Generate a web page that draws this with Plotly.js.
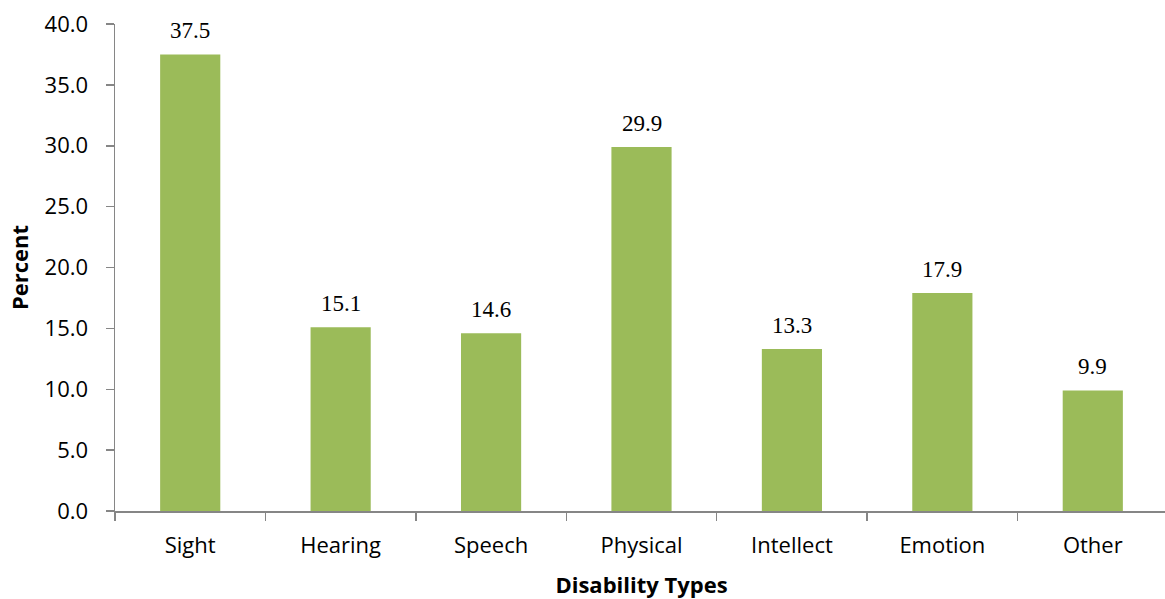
<!DOCTYPE html>
<html>
<head>
<meta charset="utf-8">
<script src="https://cdn.plot.ly/plotly-3.0.1.min.js"></script>
<style>
html,body{margin:0;padding:0;overflow:hidden;background:#fff;}
#chart{width:1168px;height:599px;}
</style>
</head>
<body>
<div id="chart"></div>
<script>
const categories = ["Sight", "Hearing", "Speech", "Physical", "Intellect", "Emotion", "Other"];
const percents = [37.5, 15.1, 14.6, 29.9, 13.3, 17.9, 9.9];
const yTicks = [0, 5, 10, 15, 20, 25, 30, 35, 40];

const trace = {
  type: "bar",
  x: categories,
  y: percents,
  marker: {color: "#9BBB59"},
  hoverinfo: "x+y"
};

const annotations = categories.map((c, i) => ({
  x: c, y: percents[i], xref: "x", yref: "y",
  text: percents[i].toFixed(1),
  showarrow: false, yanchor: "bottom", yshift: 9,
  font: {family: "Liberation Serif, Times New Roman, serif", size: 23, color: "#000"}
}));

const layout = {
  width: 1168, height: 599,
  margin: {l: 115, r: 0, t: 24, b: 88, pad: 0},
  paper_bgcolor: "#fff", plot_bgcolor: "#fff",
  bargap: 0.6,
  showlegend: false,
  xaxis: {
    type: "category",
    showline: true, linecolor: "#868686", linewidth: 1.5,
    ticks: "outside", ticklen: 8, tickcolor: "#868686", tickwidth: 1.5,
    tickson: "boundaries",
    showgrid: false, zeroline: false,
    tickfont: {family: "Open Sans, sans-serif", size: 22, color: "#000"},
    ticklabelstandoff: 14,
    title: {text: "<b>Disability Types</b>", font: {family: "Open Sans, sans-serif", size: 22, color: "#000"}, standoff: 19}
  },
  yaxis: {
    range: [0, 40],
    tickvals: yTicks,
    tickformat: ".1f",
    showline: true, linecolor: "#868686", linewidth: 1.5,
    ticks: "outside", ticklen: 8, tickcolor: "#868686", tickwidth: 1.5,
    showgrid: false, zeroline: false,
    tickfont: {family: "Open Sans, sans-serif", size: 22, color: "#000"},
    ticklabelstandoff: 13,
    title: {text: "<b>Percent</b>", font: {family: "Open Sans, sans-serif", size: 22, color: "#000"}, standoff: 10}
  },
  annotations: annotations
};

Plotly.newPlot("chart", [trace], layout, {displayModeBar: false, staticPlot: true});
</script>
</body>
</html>
